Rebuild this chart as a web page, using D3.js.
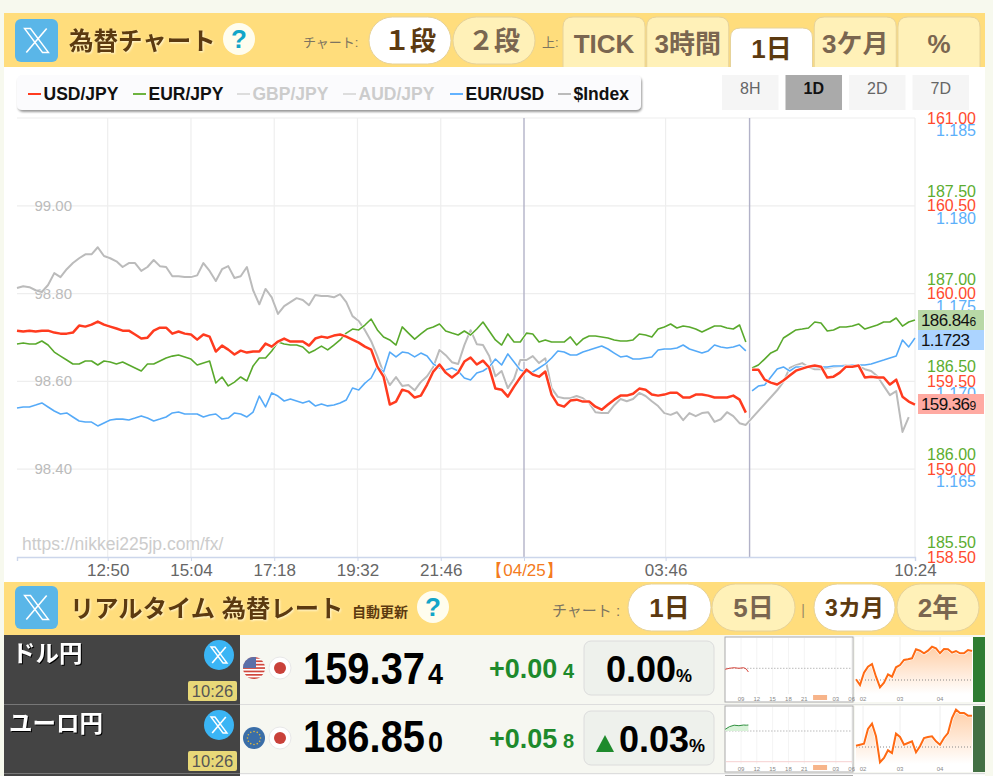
<!DOCTYPE html>
<html lang="ja">
<head>
<meta charset="utf-8">
<title>為替チャート</title>
<script src="https://cdn.jsdelivr.net/npm/d3@7"></script>
<style>
  html, body { margin: 0; padding: 0; background: #f7f9ee; overflow: hidden; }
  svg { display: block; }
  text { font-family: "Liberation Sans", "Noto Sans CJK JP", sans-serif; }
  .glow { filter: drop-shadow(1px 1px 1px #fff8d8); }
  .dark-glow { filter: drop-shadow(1px 1px 0.5px #000); }
  .tick text { font-family: "Liberation Sans", sans-serif; }
</style>
</head>
<body>
<div id="chart"></div>
<script>
// Rates, one reading every 10 minutes from 04/24 10:24 to 04/25 10:24
const usdJpy = [
  159.789,159.784,159.789,159.784,159.789,159.789,159.778,159.772,159.772,159.778,
  159.818,159.812,159.823,159.841,159.823,159.812,159.801,159.789,159.789,159.767,
  159.744,159.749,159.789,159.806,159.806,159.772,159.784,159.772,159.767,159.738,
  159.767,159.755,159.670,159.704,159.681,159.653,159.675,159.664,159.670,159.670,
  159.715,159.698,159.727,159.744,159.727,159.727,159.727,159.704,159.744,159.755,
  159.749,159.761,159.767,159.755,159.738,159.721,159.698,159.681,159.584,159.527,
  159.368,159.385,159.453,159.442,159.408,159.419,159.482,159.556,159.596,159.550,
  159.522,159.550,159.613,159.636,159.596,159.618,159.579,159.459,159.453,159.413,
  159.470,159.522,159.567,159.539,159.527,159.556,159.425,159.368,159.356,159.391,
  159.396,159.385,159.385,159.356,159.339,159.368,159.396,159.419,159.419,159.430,
  159.459,159.453,159.425,159.419,159.425,159.436,159.436,159.408,159.408,159.425,
  159.425,159.419,159.408,159.408,159.408,159.419,159.396,159.322,159.567,159.567,
  159.510,159.493,159.482,159.505,159.533,159.561,159.573,159.584,159.590,159.584,
  159.522,159.527,159.550,159.584,159.584,159.590,159.522,159.527,159.522,159.522,
  159.482,159.510,159.413,159.385,159.368
];
const eurJpy = [
  186.630,186.636,186.630,186.630,186.647,186.624,186.584,186.561,186.539,186.516,
  186.516,186.533,186.533,186.510,186.533,186.527,186.516,186.527,186.510,186.493,
  186.476,186.516,186.516,186.533,186.550,186.561,186.567,186.556,186.544,186.510,
  186.522,186.533,186.408,186.442,186.391,186.413,186.442,186.419,186.505,186.550,
  186.550,186.590,186.641,186.630,186.624,186.624,186.613,186.579,186.596,186.618,
  186.596,186.624,186.653,186.692,186.715,186.710,186.738,186.772,186.710,186.670,
  186.653,186.624,186.727,186.692,186.658,186.687,186.715,186.727,186.744,186.704,
  186.692,186.681,186.704,186.681,186.715,186.755,186.704,186.653,186.624,186.687,
  186.641,186.641,186.692,186.687,186.641,186.653,186.641,186.641,186.641,186.670,
  186.624,186.658,186.675,186.675,186.670,186.664,186.653,186.647,186.647,186.653,
  186.687,186.681,186.670,186.715,186.727,186.744,186.721,186.732,186.727,186.715,
  186.698,186.715,186.732,186.732,186.721,186.715,186.738,186.641,186.493,186.510,
  186.544,186.579,186.596,186.664,186.687,186.710,186.715,186.721,186.755,186.749,
  186.704,186.710,186.727,186.727,186.732,186.744,186.715,186.727,186.738,186.755,
  186.755,186.778,186.732,186.755,186.767
];
const eurUsd = [
  1.16919,1.16925,1.16925,1.16936,1.16948,1.16925,1.16902,1.16885,1.16891,1.16868,
  1.16845,1.16839,1.16839,1.16817,1.16834,1.16851,1.16856,1.16856,1.16851,1.16862,
  1.16874,1.16862,1.16845,1.16856,1.16868,1.16891,1.16896,1.16885,1.16885,1.16885,
  1.16868,1.16879,1.16885,1.16856,1.16862,1.16891,1.16885,1.16868,1.16896,1.16987,
  1.16925,1.17005,1.16987,1.16959,1.16970,1.16959,1.16948,1.16959,1.16931,1.16942,
  1.16931,1.16936,1.16948,1.16965,1.17033,1.17022,1.17061,1.17090,1.17158,1.17124,
  1.17238,1.17210,1.17238,1.17232,1.17210,1.17232,1.17215,1.17170,1.17147,1.17136,
  1.17147,1.17130,1.17090,1.17079,1.17118,1.17130,1.17153,1.17198,1.17164,1.17227,
  1.17181,1.17136,1.17124,1.17124,1.17147,1.17170,1.17204,1.17244,1.17238,1.17221,
  1.17221,1.17238,1.17249,1.17261,1.17272,1.17255,1.17232,1.17210,1.17215,1.17198,
  1.17198,1.17204,1.17210,1.17249,1.17255,1.17255,1.17261,1.17278,1.17255,1.17244,
  1.17232,1.17244,1.17278,1.17267,1.17261,1.17267,1.17278,1.17244,1.17016,1.17044,
  1.17050,1.17096,1.17141,1.17153,1.17130,1.17153,1.17153,1.17153,1.17153,1.17153,
  1.17153,1.17158,1.17158,1.17158,1.17164,1.17164,1.17164,1.17170,1.17181,1.17192,
  1.17204,1.17215,1.17306,1.17267,1.17318
];
const dollarIndex = [
  98.812,98.816,98.814,98.807,98.803,98.819,98.846,98.837,98.855,98.869,
  98.880,98.889,98.889,98.905,98.885,98.880,98.873,98.860,98.869,98.869,
  98.851,98.860,98.876,98.862,98.860,98.839,98.839,98.837,98.837,98.841,
  98.869,98.851,98.828,98.855,98.862,98.835,98.839,98.860,98.807,98.775,
  98.810,98.791,98.753,98.771,98.780,98.789,98.785,98.773,98.796,98.794,
  98.794,98.791,98.798,98.780,98.748,98.737,98.716,98.691,98.657,98.618,
  98.591,98.609,98.589,98.591,98.579,98.598,98.611,98.632,98.671,98.659,
  98.643,98.639,98.682,98.716,98.684,98.682,98.657,98.611,98.623,98.584,
  98.605,98.648,98.648,98.657,98.641,98.652,98.584,98.564,98.561,98.561,
  98.566,98.561,98.550,98.529,98.527,98.527,98.545,98.559,98.554,98.559,
  98.573,98.566,98.554,98.543,98.527,98.523,98.529,98.511,98.527,98.520,
  98.527,98.529,98.507,98.513,98.529,98.520,98.504,98.500,null,null,
  null,null,98.579,98.598,98.630,98.636,98.641,98.632,98.627,98.627,
  98.630,98.632,98.634,98.636,98.636,98.634,98.627,98.623,98.611,98.589,
  98.568,98.577,98.484,98.518,null
];
const sessionBreak = 118; // market break around 06:00

const stepMinutes = 10;
const startMinute = -816; // 10:24 the day before, minutes from 04/25 00:00
const endMinute = 624;

// Axis labels
const timeTicks = [-670, -536, -402, -268, -134, 0, 226, 624];
const timeLabels = ["12:50", "15:04", "17:18", "19:32", "21:46", "【04/25】", "03:46", "10:24"];
const gridMinutes = [-670, -536, -402, -268, -134, 226, 624];
const plotLineMinutes = [0, 360];
const usdTicks = [161, 160.5, 160, 159.5, 159, 158.5];
const eurTicks = [187.5, 187, 186.5, 186, 185.5];
const eurUsdTicks = [1.185, 1.18, 1.175, 1.17, 1.165];
const indexTicks = [99, 98.8, 98.6, 98.4];

// Legend and buttons
const legendNames = ["USD/JPY", "EUR/JPY", "GBP/JPY", "AUD/JPY", "EUR/USD", "$Index"];
const legendColors = ["#ff3b1f", "#6db33f", "#dddddd", "#dddddd", "#62b2ff", "#bbbbbb"];
const legendTextColors = ["#111", "#111", "#ccc", "#ccc", "#111", "#111"];
const rangeNames = ["8H", "1D", "2D", "7D"];
const tabNames = ["TICK", "3時間", "1日", "3ケ月", "%"];

// Rate table rows
const pairNames = ["ドル円", "ユーロ円"];
const pairTimes = ["10:26", "10:26"];
const pairPrices = ["159.37", "186.85"];
const pairPriceTails = ["4", "0"];
const pairChanges = ["+0.00", "+0.05"];
const pairChangeTails = ["4", "8"];
const pairPercents = ["0.00", "0.03"];

// Small charts in the table
const miniHours = [6, 6.8, 7.7, 8.6, 9.5, 10, 10.4];
const miniUsd = [159.36, 159.37, 159.376, 159.37, 159.376, 159.363, 159.333];
const miniEur = [186.809, 186.835, 186.85, 186.845, 186.852, 186.85, 186.852];
const miniHourTicks = [9, 12, 15, 18, 21, 27, 30];
const miniHourLabels = ["09", "12", "15", "18", "21", "03", "06"];
const threeMonthUsd = [156.07,155.5,156.73,157.33,157.6,156.33,155.27,155.73,156.57,156.33,
  157.27,157.5,158,158.07,158.17,159.07,158.93,158.67,158.93,159.33,
  159.17,158.67,159.1,159.07,158.73,158.9,158.67,158.67,159,158.9];
const threeMonthEur = [183.13,183.23,183.33,184.8,185.33,184.07,181.47,181.9,182.67,182.4,
  184.33,184,183.23,183.4,183.57,182.47,183.07,183.9,184,184.07,
  183.57,183.23,183.9,184.4,185.9,186.73,186.4,186.4,186.13,186.13];
const monthTicks = [1.75, 11, 21];
const monthLabels = ["02", "03", "04"];

const width = 993, height = 776;
const brown = "#5c3a10", paleBrown = "#7a6650", band = "#ffdd7c", pale = "#fff1b8";

const svg = d3.select("#chart").append("svg")
  .attr("width", width)
  .attr("height", height)
  .attr("viewBox", [0, 0, width, height]);

const defs = svg.append("defs");
const shadow = defs.append("filter").attr("id", "boxShadow")
  .attr("x", "-5%").attr("y", "-20%").attr("width", "110%").attr("height", "150%");
shadow.append("feDropShadow").attr("dx", 1).attr("dy", 2).attr("stdDeviation", 1.2)
  .attr("flood-color", "#000").attr("flood-opacity", 0.4);
const orange = defs.append("linearGradient").attr("id", "orangeFade")
  .attr("x1", 0).attr("x2", 0).attr("y1", 0).attr("y2", 1);
orange.append("stop").attr("offset", "0%").attr("stop-color", "#ffcfa8");
orange.append("stop").attr("offset", "100%").attr("stop-color", "#ffffff");

// Panel background
svg.append("rect").attr("x", 4).attr("y", 13).attr("width", 981).attr("height", 763).attr("fill", "#fff");

function label(parent, x, y, str, size, color, opts = {}) {
  return parent.append("text")
    .attr("x", x).attr("y", y)
    .attr("font-size", size)
    .attr("font-weight", opts.weight || "normal")
    .attr("text-anchor", opts.anchor || "start")
    .attr("fill", color)
    .attr("class", opts.cls || null)
    .text(str);
}

function drawXMark(parent, cx, cy, r) {
  const g = parent.append("g").attr("transform", `translate(${cx},${cy})`)
    .attr("fill", "none").attr("stroke", "#fff");
  g.append("path")
    .attr("d", `M${-r},${-r}L${-r * 0.5},${-r}L${r},${r}L${r * 0.5},${r}Z`)
    .attr("stroke-width", 1.4);
  g.append("path")
    .attr("d", `M${r * 0.85},${-r}L${-r * 0.85},${r}`)
    .attr("stroke-width", 1.6);
}

function xButton(parent, x, y) {
  parent.append("rect").attr("x", x).attr("y", y).attr("width", 43).attr("height", 43)
    .attr("rx", 6).attr("fill", "#5ab6e8");
  drawXMark(parent, x + 21.5, y + 21.5, 12);
}

function helpMark(parent, cx, cy) {
  parent.append("circle").attr("cx", cx).attr("cy", cy).attr("r", 16).attr("fill", "#fffdee");
  label(parent, cx, cy + 9, "?", 26, "#12a5c8", { weight: "bold", anchor: "middle" });
}

function pill(parent, x, y, w, h, str, active, size = 26) {
  parent.append("rect").attr("x", x).attr("y", y).attr("width", w).attr("height", h)
    .attr("rx", h / 2).attr("fill", active ? "#fff" : pale).attr("stroke", "#e6d29a");
  label(parent, x + w / 2, y + h / 2 + size * 0.36, str, size, active ? brown : paleBrown,
    { weight: "bold", anchor: "middle" });
}

// Top header
const topBar = svg.append("g");
topBar.append("rect").attr("x", 4).attr("y", 13).attr("width", 981).attr("height", 54).attr("fill", band);
xButton(topBar, 15, 19);
label(topBar, 69, 50, "為替チャート", 24.5, brown, { weight: "bold", cls: "glow" });
helpMark(topBar, 239, 39);
label(topBar, 303, 47, "チャート:", 13, "#7d7460");
pill(topBar, 369, 17, 82, 47, "１段", true);
pill(topBar, 453, 17, 82, 47, "２段", false);
label(topBar, 542, 47, "上:", 13, "#7d7460");

const tabX = d3.scaleBand().domain(tabNames).range([563, 980]).paddingInner(0.02);
tabNames.forEach((name) => {
  const active = name === "1日";
  const tx = tabX(name), w = tabX.bandwidth(), y = active ? 28 : 17;
  topBar.append("path")
    .attr("d", `M${tx},67V${y + 10}Q${tx},${y} ${tx + 10},${y}H${tx + w - 10}Q${tx + w},${y} ${tx + w},${y + 10}V67`)
    .attr("fill", active ? "#fff" : pale)
    .attr("stroke", "#e6d29a");
  label(topBar, tx + w / 2, active ? 58 : 53, name, 26, active ? brown : paleBrown,
    { weight: "bold", anchor: "middle" });
});

// Scales, the time axis runs a little wider after midnight
const x = d3.scaleLinear().domain([startMinute, 0, endMinute]).range([17, 524, 915]);
const yUsd = d3.scaleLinear().domain([158.5, 161]).range([557, 118]);
const yEur = d3.scaleLinear().domain([185.5, 187.5]).range([542.4, 191.2]);
const yEurUsd = d3.scaleLinear().domain([1.165, 1.185]).range([481.6, 130.4]);
const yIndex = d3.scaleLinear().domain([98.4, 99]).range([468.8, 205.6]);

// Plot grid
const grid = svg.append("g");
grid.selectAll(".hgrid").data(usdTicks.slice(0, 5)).enter().append("line")
  .attr("x1", 17).attr("x2", 915)
  .attr("y1", (d) => yUsd(d)).attr("y2", (d) => yUsd(d))
  .attr("stroke", "#eeeeee").attr("stroke-width", 1.2);
grid.selectAll(".vgrid").data(gridMinutes).enter().append("line")
  .attr("x1", (d) => x(d)).attr("x2", (d) => x(d))
  .attr("y1", 118).attr("y2", 557)
  .attr("stroke", "#eeeeee").attr("stroke-width", 1.2);

// Index labels sit inside the plot, under the lines
const indexAxis = svg.append("g")
  .attr("transform", "translate(72,0)")
  .call(d3.axisLeft(yIndex).tickValues(indexTicks).tickSize(0).tickPadding(0).tickFormat(d3.format(".2f")));
indexAxis.select(".domain").remove();
indexAxis.selectAll("text").attr("font-size", 15).attr("fill", "#bbb");

grid.selectAll(".plot-line").data(plotLineMinutes).enter().append("line")
  .attr("x1", (d) => x(d)).attr("x2", (d) => x(d))
  .attr("y1", 118).attr("y2", 557)
  .attr("stroke", "#b2b2c8").attr("stroke-width", 1.4);

label(svg, 22, 550, "https://nikkei225jp.com/fx/", 17.5, "#cccccc");

// Bottom axis
const timeAxis = svg.append("g")
  .attr("transform", "translate(0,557)")
  .call(d3.axisBottom(x).tickValues(timeTicks).tickSize(4).tickPadding(3)
    .tickFormat((d, i) => timeLabels[i]));
timeAxis.select(".domain").attr("stroke", "#ccd6eb").attr("stroke-width", 1.4);
timeAxis.selectAll("line").attr("stroke", "#ccd6eb");
timeAxis.selectAll("text")
  .attr("font-size", 17)
  .attr("fill", (d) => (d === 0 ? "#f47b20" : "#666"));

// Series lines, a thin white edge under each one
function minuteAt(i) {
  return startMinute + i * stepMinutes;
}

function drawSeries(values, yScale, color, strokeWidth, splitAtBreak) {
  const points = values.map((v, i) => ({ t: minuteAt(i), v }));
  const parts = splitAtBreak
    ? [points.slice(0, sessionBreak), points.slice(sessionBreak)]
    : [points.filter((d) => d.v !== null)];
  const line = d3.line().x((d) => x(d.t)).y((d) => yScale(d.v));
  const g = svg.append("g").attr("fill", "none").attr("stroke-linejoin", "round");
  parts.forEach((part) => {
    g.append("path").attr("d", line(part)).attr("stroke", "#fff").attr("stroke-width", strokeWidth + 1.2);
    g.append("path").attr("d", line(part)).attr("stroke", color).attr("stroke-width", strokeWidth);
  });
}

drawSeries(dollarIndex, yIndex, "#bbbbbb", 2, false);
drawSeries(eurUsd, yEurUsd, "#55aaf8", 1.6, true);
drawSeries(eurJpy, yEur, "#59a92c", 1.6, true);
drawSeries(usdJpy, yUsd, "#ff3b1f", 2.5, true);

// Right hand axes, right aligned at the same edge
function rightAxis(scale, ticks, color, fmt) {
  const g = svg.append("g")
    .attr("transform", "translate(976,0)")
    .call(d3.axisLeft(scale).tickValues(ticks).tickSize(0).tickPadding(0).tickFormat(d3.format(fmt)));
  g.select(".domain").remove();
  g.selectAll("text").attr("font-size", 16).attr("fill", color);
}
rightAxis(yEur, eurTicks, "#5cad30", ".2f");
rightAxis(yUsd, usdTicks, "#ff4a2e", ".2f");
rightAxis(yEurUsd, eurUsdTicks, "#5cb0fa", ".3f");

// Last value flags
const flagTexts = ["186.84", "1.1723", "159.36"];
const flagTails = ["6", "", "9"];
const flagColors = ["#b8d8a6", "#acd4ff", "#ffaaa2"];
const flagTops = [310, 330, 394];
flagTexts.forEach((str, i) => {
  svg.append("rect").attr("x", 918).attr("y", flagTops[i]).attr("width", 66).attr("height", 20)
    .attr("fill", flagColors[i]);
  const t = label(svg, 921, flagTops[i] + 15.5, str, 17, "#111");
  t.attr("letter-spacing", -0.6);
  t.append("tspan").attr("font-size", 12).text(flagTails[i]);
});

// Legend
const legend = svg.append("g");
legend.append("rect").attr("x", 17).attr("y", 75).attr("width", 624).attr("height", 35)
  .attr("rx", 5).attr("fill", "#fbfbfd").attr("filter", "url(#boxShadow)");
const legendX = [28, 133, 237, 343, 450, 558];
legendNames.forEach((name, i) => {
  legend.append("line")
    .attr("x1", legendX[i]).attr("x2", legendX[i] + 13)
    .attr("y1", 94).attr("y2", 94)
    .attr("stroke", legendColors[i]).attr("stroke-width", 2);
  label(legend, legendX[i] + 15.5, 99.5, name, 17.5, legendTextColors[i], { weight: "bold" });
});

// Range buttons
const rangeX = d3.scaleBand().domain(rangeNames).range([722, 969]).paddingInner(0.11);
rangeNames.forEach((name) => {
  const active = name === "1D";
  svg.append("rect").attr("x", rangeX(name)).attr("y", 75)
    .attr("width", rangeX.bandwidth()).attr("height", 35)
    .attr("fill", active ? "#aaaaaa" : "#f5f5f5");
  label(svg, rangeX(name) + rangeX.bandwidth() / 2, 94, name, 16, active ? "#111" : "#666",
    { weight: active ? "bold" : "normal", anchor: "middle" });
});

// Second header
const second = svg.append("g");
second.append("rect").attr("x", 4).attr("y", 582).attr("width", 981).attr("height", 53).attr("fill", band);
xButton(second, 15, 586);
label(second, 70, 617, "リアルタイム 為替レート", 24.3, brown, { weight: "bold", cls: "glow" });
label(second, 352, 617, "自動更新", 14, brown, { weight: "bold" });
helpMark(second, 433, 607);
label(second, 552, 616, "チャート :", 15, "#7d7460");
pill(second, 628, 584, 83, 47, "1日", true);
pill(second, 712, 584, 83, 47, "5日", false);
label(second, 803, 615, "|", 14, "#998866", { anchor: "middle" });
pill(second, 814, 584, 81, 47, "3カ月", true, 23);
pill(second, 897, 584, 82, 47, "2年", false);

// Flag icons
function jpFlag(parent, cx, cy) {
  parent.append("circle").attr("cx", cx).attr("cy", cy).attr("r", 11).attr("fill", "#fff")
    .attr("stroke", "#e8e8e8");
  parent.append("circle").attr("cx", cx).attr("cy", cy).attr("r", 6).attr("fill", "#c9413a");
}

function usFlag(parent, cx, cy) {
  const id = "usClip";
  defs.append("clipPath").attr("id", id).append("circle")
    .attr("cx", cx).attr("cy", cy).attr("r", 11);
  const g = parent.append("g").attr("clip-path", `url(#${id})`);
  g.append("rect").attr("x", cx - 11).attr("y", cy - 11).attr("width", 22).attr("height", 22).attr("fill", "#fff");
  d3.range(0, 7).forEach((i) => {
    g.append("rect").attr("x", cx - 11).attr("y", cy - 11 + i * 3.4)
      .attr("width", 22).attr("height", 1.7).attr("fill", "#d0473c");
  });
  g.append("rect").attr("x", cx - 11).attr("y", cy - 11).attr("width", 13).attr("height", 11).attr("fill", "#5b6fa8");
}

function euFlag(parent, cx, cy) {
  parent.append("circle").attr("cx", cx).attr("cy", cy).attr("r", 11).attr("fill", "#3a6ea8");
  d3.range(0, 12).forEach((i) => {
    const a = (i * Math.PI) / 6;
    parent.append("circle")
      .attr("cx", cx + Math.cos(a) * 6.5).attr("cy", cy + Math.sin(a) * 6.5)
      .attr("r", 0.8).attr("fill", "#e0b83c");
  });
}

// Table rows
const rowTops = [635, 705];
const rowHeights = [69, 68];
const miniScales = [
  d3.scaleLinear().domain([159.37, 159.0]).range([668.3, 705.3]),
  d3.scaleLinear().domain([186.792, 186.492]).range([731, 761])
];
const miniSeries = [miniUsd, miniEur];
const threeSeries = [threeMonthUsd, threeMonthEur];
const threeScales = [
  d3.scaleLinear().domain([156, 159.7]).range([680, 643]),
  d3.scaleLinear().domain([183, 186.9]).range([747, 708])
];
const miniX = d3.scaleLinear().domain([9, 30]).range([741, 851.7]);
const threeX = d3.scaleLinear().domain([0, 29]).range([856, 972]);

pairNames.forEach((name, i) => {
  const top0 = rowTops[i], h = rowHeights[i];
  const row = svg.append("g");
  row.append("rect").attr("x", 4).attr("y", top0).attr("width", 981).attr("height", h).attr("fill", "#f6f7f1");
  row.append("rect").attr("x", 4).attr("y", top0 + h).attr("width", 981).attr("height", 1.2).attr("fill", "#dddddd");

  // Name cell
  row.append("rect").attr("x", 4).attr("y", top0).attr("width", 236).attr("height", h + 1).attr("fill", "#444444");
  row.append("rect").attr("x", 4).attr("y", top0 + h).attr("width", 236).attr("height", 1).attr("fill", "#777");
  label(row, i === 0 ? 12 : 9, top0 + 27, name, 23.5, "#fff", { weight: "bold", cls: "dark-glow" });
  row.append("circle").attr("cx", 219).attr("cy", top0 + 20).attr("r", 15).attr("fill", "#3ab5f5");
  drawXMark(row, 219, top0 + 20, 8);
  row.append("rect").attr("x", 188).attr("y", top0 + 46).attr("width", 49).attr("height", 20)
    .attr("rx", 2).attr("fill", "#e8d878");
  label(row, 212.5, top0 + 62, pairTimes[i], 16.5, "#555", { anchor: "middle" });

  // Flags
  if (i === 0) usFlag(row, 254, top0 + 33);
  else euFlag(row, 254, top0 + 33);
  jpFlag(row, 280, top0 + 33);

  // Price, slightly condensed like the site's own type
  const base = i === 0 ? 684 : 752;
  label(row, 303, base, pairPrices[i], 44, "#000", { weight: "bold" })
    .attr("textLength", 122).attr("lengthAdjust", "spacingAndGlyphs");
  label(row, 428, base, pairPriceTails[i], 30, "#000", { weight: "bold" })
    .attr("textLength", 15).attr("lengthAdjust", "spacingAndGlyphs");
  const changeBase = i === 0 ? 678 : 748;
  label(row, 489, changeBase, pairChanges[i], 27, "#1e8a2c", { weight: "bold" });
  label(row, 563, changeBase, pairChangeTails[i], 20, "#1e8a2c", { weight: "bold" });

  // Percent box
  const boxTop = i === 0 ? 641 : 711;
  row.append("rect").attr("x", 584).attr("y", boxTop).attr("width", 130).attr("height", 54)
    .attr("rx", 7).attr("fill", "#eef1ec").attr("stroke", "#dcdcdc");
  const pctBase = i === 0 ? 682 : 752;
  const pctX = i === 0 ? 606 : 619;
  if (i === 1) {
    row.append("path").attr("d", `M596,${pctBase}L614,${pctBase}L605,${pctBase - 17}Z`).attr("fill", "#1e8a2c");
  }
  label(row, pctX, pctBase, pairPercents[i], 36, "#000", { weight: "bold" });
  label(row, pctX + 70, pctBase, "%", 18, "#000", { weight: "bold" });

  // One day mini chart
  const boxY = i === 0 ? 637 : 706, boxH = i === 0 ? 65 : 66;
  row.append("rect").attr("x", 725).attr("y", boxY).attr("width", 128).attr("height", boxH)
    .attr("fill", "#fff").attr("stroke", "#aaa");
  row.selectAll(".mini-grid").data(miniHourTicks).enter().append("line")
    .attr("x1", (d) => miniX(d)).attr("x2", (d) => miniX(d))
    .attr("y1", boxY + 1).attr("y2", boxY + boxH - 8)
    .attr("stroke", "#f4f4f4");
  const closeY = miniScales[i](miniScales[i].domain()[0]);
  row.append("line").attr("x1", 726).attr("x2", 852).attr("y1", closeY).attr("y2", closeY)
    .attr("stroke", "#bbb").attr("stroke-dasharray", "1.5,1.5");
  const miniPoints = miniSeries[i].map((v, j) => ({ h: miniHours[j], v }));
  const miniLine = d3.line().x((d) => miniX(d.h)).y((d) => miniScales[i](d.v));
  if (i === 1) {
    row.append("path")
      .attr("d", d3.area().x((d) => miniX(d.h)).y0(closeY).y1((d) => miniScales[i](d.v))(miniPoints))
      .attr("fill", "#d8f2d8");
    row.append("line").attr("x1", 726).attr("x2", 852).attr("y1", 761.7).attr("y2", 761.7)
      .attr("stroke", "#f6d0d0");
  }
  row.append("path").attr("d", miniLine(miniPoints)).attr("fill", "none")
    .attr("stroke", i === 0 ? "#d9463c" : "#2f8f3f").attr("stroke-width", 1);
  miniHourTicks.forEach((hr, j) => {
    label(row, miniX(hr), boxY + boxH - 1.5, miniHourLabels[j], 6, "#888", { anchor: "middle" });
  });
  row.append("rect").attr("x", miniX(24) - 7).attr("y", boxY + boxH - 7).attr("width", 14).attr("height", 5)
    .attr("fill", "#f7b48a");

  // Three month mini chart
  row.append("rect").attr("x", 855).attr("y", boxY).attr("width", 118).attr("height", boxH).attr("fill", "#fff");
  row.selectAll(".month-grid").data(monthTicks).enter().append("line")
    .attr("x1", (d) => threeX(d)).attr("x2", (d) => threeX(d))
    .attr("y1", boxY).attr("y2", boxY + boxH - 8)
    .attr("stroke", "#eeeeee");
  const threePoints = threeSeries[i];
  const bottom = boxY + boxH - 8;
  row.append("path")
    .attr("d", d3.area().x((d, j) => threeX(j)).y0(bottom).y1((d) => threeScales[i](d))(threePoints))
    .attr("fill", "url(#orangeFade)");
  const dottedY = threeScales[i](threeScales[i].domain()[0]);
  row.append("line").attr("x1", 856).attr("x2", 972).attr("y1", dottedY).attr("y2", dottedY)
    .attr("stroke", "#888").attr("stroke-dasharray", "1,2");
  const threeLine = d3.line().x((d, j) => threeX(j)).y((d) => threeScales[i](d));
  row.append("path").attr("d", threeLine(threePoints)).attr("fill", "none").attr("stroke", "#fff").attr("stroke-width", 3.2);
  row.append("path").attr("d", threeLine(threePoints)).attr("fill", "none").attr("stroke", "#ff6a13").attr("stroke-width", 2);
  monthTicks.forEach((m, j) => {
    label(row, threeX(m), boxY + boxH - 1.5, monthLabels[j], 6, "#888", { anchor: "middle" });
  });

  row.append("rect").attr("x", 973).attr("y", boxY).attr("width", 12).attr("height", boxH)
    .attr("fill", i === 0 ? "#2f7d32" : "#437044");
});

// Start of the next row at the bottom of the window
svg.append("rect").attr("x", 4).attr("y", 774).attr("width", 236).attr("height", 2).attr("fill", "#444444");
svg.append("rect").attr("x", 725).attr("y", 775).attr("width", 128).attr("height", 1).attr("fill", "#aaa");
</script>
</body>
</html>
